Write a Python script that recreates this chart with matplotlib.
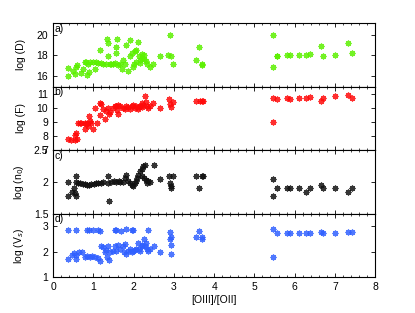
import matplotlib
matplotlib.use("Agg")
import matplotlib.pyplot as plt
from matplotlib.ticker import MultipleLocator

# [OIII]/[OII] ratio and model results
x_a = [0.37, 0.37, 0.50, 0.56, 0.60, 0.54, 0.70, 0.74, 0.81, 0.87, 0.91, 0.99, 1.03, 0.90,
       0.85, 1.16, 1.12, 1.24, 1.32, 1.37, 1.35, 1.37, 1.41, 1.49, 1.57, 1.59, 1.57, 1.61,
       1.65, 1.70, 1.78, 1.82, 1.86, 1.91, 1.91, 1.95, 1.99, 2.03, 2.07, 2.11, 2.07, 2.13,
       2.15, 2.20, 2.22, 2.25, 2.30, 2.32, 2.40, 2.48, 2.65, 2.90, 2.86, 2.92, 2.97, 3.54,
       3.62, 3.69, 3.71, 0.78, 1.06, 1.20, 1.45, 1.53, 1.74, 2.01, 2.17, 2.27,
       5.45, 5.45, 5.55, 5.56, 5.81, 5.89, 6.10, 6.29, 6.39, 6.66, 6.70, 6.99, 7.32, 7.42]
log_D = [16.8, 16.07, 16.48, 16.9, 17.1, 16.2, 16.3, 16.7, 17.35, 17.2, 17.4, 17.4, 16.7, 16.4,
         16.1, 18.5, 17.3, 17.2, 17.2, 17.9, 19.6, 19.2, 17.2, 17.2, 18.8, 19.6, 18.2, 17.1,
         17.2, 16.7, 17.2, 19.0, 16.5, 19.5, 17.9, 18.2, 16.9, 18.4, 18.5, 19.3, 17.4, 17.9,
         17.3, 18.1, 17.8, 17.7, 17.5, 17.2, 16.9, 17.2, 17.9, 20.0, 18.0, 17.9, 17.2, 17.6,
         18.8, 17.2, 17.1, 17.4, 17.4, 17.3, 17.2, 17.3, 17.6, 17.2, 17.6, 18.0,
         20.0, 16.86, 17.98, 17.9, 18.08, 18.08, 18.08, 18.0, 18.15, 18.9, 17.9, 18.08, 19.2, 18.25]

x_b = [0.37, 0.45, 0.54, 0.54, 0.60, 0.57, 0.61, 0.70, 0.78, 0.85, 0.91, 0.95, 0.87, 0.89,
       0.78, 0.99, 1.03, 1.16, 1.20, 1.16, 1.24, 1.28, 1.32, 1.37, 1.41, 1.49, 1.53, 1.57,
       1.59, 1.61, 1.65, 1.74, 1.78, 1.82, 1.86, 1.91, 1.95, 1.99, 2.03, 2.07, 2.11, 2.13,
       2.17, 2.20, 2.22, 2.24, 2.28, 2.30, 2.32, 2.36, 2.40, 2.48, 2.65, 2.88, 2.90, 2.92,
       2.97, 3.56, 3.64, 3.69, 3.72, 1.40, 1.62, 0.66, 0.82, 1.08,
       5.45, 5.45, 5.55, 5.81, 5.89, 6.10, 6.29, 6.39, 6.66, 6.70, 6.99, 7.32, 7.42]
log_F = [7.8, 7.76, 8.05, 7.7, 7.8, 8.25, 8.9, 8.9, 8.95, 8.95, 9.05, 8.95, 8.75, 9.45,
         8.5, 8.5, 10.0, 10.35, 10.25, 9.5, 9.9, 9.2, 9.75, 10.0, 9.7, 10.0, 10.15, 10.1,
         9.85, 10.2, 10.1, 10.0, 9.9, 10.15, 10.05, 9.95, 10.1, 10.2, 10.0, 10.1, 9.95, 10.05,
         10.15, 10.35, 10.05, 10.2, 10.85, 10.4, 10.1, 10.0, 10.15, 10.35, 10.0, 10.65, 10.3, 10.05,
         10.45, 10.5, 10.5, 10.5, 10.5, 9.6, 9.55, 8.9, 8.85, 8.95,
         10.7, 9.0, 10.65, 10.7, 10.65, 10.7, 10.7, 10.75, 10.5, 10.7, 10.85, 10.9, 10.7]

x_c = [0.37, 0.37, 0.48, 0.51, 0.54, 0.57, 0.57, 0.58, 0.62, 0.68, 0.73, 0.79, 0.84, 0.89,
       0.95, 1.01, 1.07, 1.12, 1.18, 1.23, 1.37, 1.37, 1.38, 1.43, 1.52, 1.57, 1.63, 1.66,
       1.73, 1.78, 1.82, 1.86, 1.91, 1.95, 1.99, 2.03, 2.07, 2.09, 2.11, 2.15, 2.20, 2.24,
       2.28, 2.22, 2.25, 2.30, 2.32, 2.36, 2.40, 2.50, 2.65, 2.88, 2.90, 2.92, 2.94, 2.97,
       3.55, 3.63, 3.69, 3.72,
       5.45, 5.45, 5.55, 5.81, 5.89, 6.10, 6.29, 6.39, 6.66, 6.70, 6.99, 7.32, 7.42]
log_n0 = [2.0, 1.78, 1.85, 1.91, 1.83, 1.78, 2.09, 2.0, 1.98, 1.98, 1.97, 1.97, 1.96, 1.96,
          1.97, 1.97, 1.98, 1.98, 1.98, 2.0, 2.09, 1.99, 1.7, 2.0, 2.01, 2.0, 2.01, 2.0,
          2.0, 2.07, 2.11, 2.01, 1.98, 1.96, 1.94, 1.98, 2.01, 2.06, 2.11, 2.17, 2.2, 2.25,
          2.27, 2.09, 2.06, 2.03, 1.98, 2.01, 2.0, 2.27, 2.04, 2.1, 1.98, 1.94, 1.9, 2.1,
          2.1, 1.91, 2.1, 2.1,
          2.05, 1.78, 1.91, 1.91, 1.91, 1.91, 1.84, 1.91, 1.96, 1.91, 1.91, 1.84, 1.91]

x_d = [0.37, 0.57, 0.83, 0.89, 0.99, 1.12, 1.16, 1.53, 1.57, 1.68, 1.82, 1.95, 1.99, 2.36,
       0.37, 0.48, 0.51, 0.56, 0.57, 0.65, 0.71, 0.78, 0.85, 0.91, 0.97, 1.03, 1.12, 1.16,
       1.20, 1.24, 1.28, 1.31, 1.35, 1.37, 1.38, 1.41, 1.49, 1.53, 1.57, 1.61, 1.65, 1.74,
       1.76, 1.78, 1.82, 1.86, 1.91, 1.95, 1.99, 2.03, 2.07, 2.11, 2.13, 2.15, 2.20, 2.22,
       2.25, 2.28, 2.30, 2.32, 2.36, 2.40, 2.50, 2.65, 2.90, 2.90, 2.92, 2.94, 2.92,
       3.55, 3.63, 3.69, 3.71,
       5.45, 5.45, 5.55, 5.81, 5.89, 6.10, 6.29, 6.39, 6.66, 6.70, 6.99, 7.32, 7.42]
log_Vs = [2.85, 2.85, 2.87, 2.87, 2.85, 2.87, 2.82, 2.87, 2.87, 2.83, 2.89, 2.87, 2.87, 2.87,
          1.73, 1.87, 1.95, 1.71, 1.89, 1.99, 1.99, 1.81, 1.84, 1.81, 1.84, 1.81, 1.77, 1.64,
          2.22, 2.19, 1.99, 2.08, 1.81, 2.22, 1.69, 1.99, 2.05, 2.22, 2.05, 2.29, 2.13, 2.22,
          1.99, 2.33, 1.9, 2.05, 2.13, 1.99, 2.05, 2.08, 2.13, 2.36, 2.13, 2.05, 2.22, 2.29,
          2.49, 2.22, 2.36, 2.13, 2.05, 2.13, 2.25, 1.99, 2.77, 2.49, 2.29, 2.6, 1.9,
          2.6, 2.83, 2.6, 2.49,
          2.89, 1.78, 2.73, 2.75, 2.75, 2.75, 2.75, 2.75, 2.78, 2.75, 2.75, 2.79, 2.79]

plt.rcParams['font.family'] = ['Liberation Sans', 'DejaVu Sans']
plt.rcParams['font.size'] = 7.5

fig, axes = plt.subplots(4, 1, sharex=True, figsize=(4.15, 3.13), dpi=100)
fig.subplots_adjust(left=0.128, right=0.904, top=0.926, bottom=0.114, hspace=0)

panels = [
    (x_a, log_D, '#5cf000', 'log (D)', (15, 21.1), [16, 18, 20], 'a)'),
    (x_b, log_F, '#ff0a0a', 'log (F)', (7, 11.5), [7, 8, 9, 10, 11], 'b)'),
    (x_c, log_n0, '#111111', 'log (n$_0$)', (1.5, 2.5), [1.5, 2, 2.5], 'c)'),
    (x_d, log_Vs, '#3060ff', 'log (V$_s$)', (1, 3.5), [1, 2, 3], 'd)'),
]

for ax, (xs, ys, col, lab, lim, ticks, tag) in zip(axes, panels):
    ax.plot(xs, ys, linestyle='none', marker=(8, 2, 0), markersize=4.2,
            markeredgewidth=0.9, color=col, alpha=0.85)
    ax.set_ylim(*lim)
    ax.set_yticks(ticks)
    ax.set_yticklabels([f"{t:g}" for t in ticks])
    ax.set_ylabel(lab)
    ax.yaxis.set_label_coords(-0.085, 0.5)
    ax.text(0.005, 0.99, tag, transform=ax.transAxes, ha='left', va='top')
    ax.tick_params(direction='in', top=True, right=True, length=3, width=0.6)
    ax.tick_params(which='minor', direction='in', top=True, length=1.6, width=0.5)
    for s in ax.spines.values():
        s.set_linewidth(0.8)

axes[-1].set_xlim(0, 8)
axes[-1].xaxis.set_major_locator(MultipleLocator(1))
axes[-1].xaxis.set_minor_locator(MultipleLocator(0.2))
axes[-1].set_xlabel('[OIII]/[OII]', labelpad=2)

fig.savefig('out.png', dpi=100)
